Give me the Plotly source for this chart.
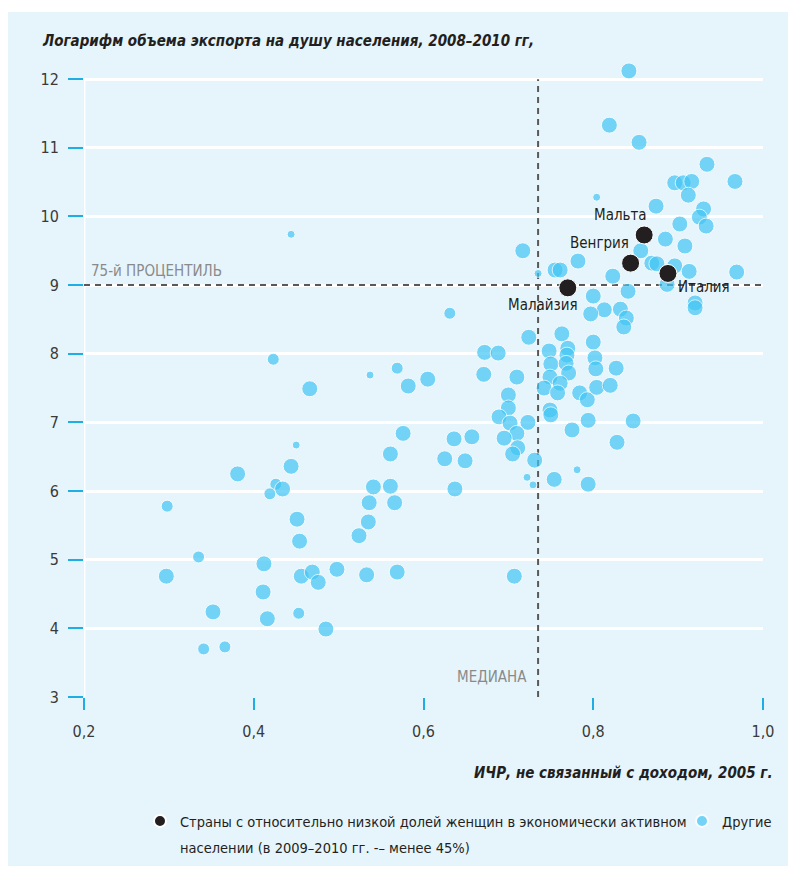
import plotly.graph_objects as go

# ---------------- data ----------------
# "Другие" (other countries): non-income HDI 2005, log exports per capita 2008-2010, bubble class
other_hdi = [0.842, 0.819, 0.854, 0.934, 0.967, 0.896, 0.906, 0.916, 0.912, 0.804,
             0.874, 0.930, 0.925, 0.933, 0.902, 0.885, 0.908, 0.717, 0.782, 0.856,
             0.869, 0.875, 0.735, 0.755, 0.761, 0.823, 0.896, 0.913, 0.969, 0.887,
             0.841, 0.800, 0.920, 0.920, 0.813, 0.797, 0.832, 0.839, 0.836, 0.724,
             0.763, 0.800, 0.748, 0.770, 0.769, 0.802, 0.672, 0.688, 0.750, 0.768,
             0.771, 0.803, 0.827, 0.671, 0.710, 0.749, 0.742, 0.761, 0.758, 0.784,
             0.793, 0.804, 0.820, 0.700, 0.700, 0.689, 0.702, 0.723, 0.749, 0.750,
             0.794, 0.847, 0.775, 0.710, 0.695, 0.828, 0.711, 0.705, 0.731, 0.722,
             0.729, 0.754, 0.781, 0.794, 0.636, 0.657, 0.625, 0.649, 0.637, 0.707,
             0.381, 0.444, 0.426, 0.434, 0.419, 0.298, 0.451, 0.454, 0.335, 0.412,
             0.297, 0.456, 0.469, 0.476, 0.498, 0.533, 0.569, 0.411, 0.352, 0.453,
             0.416, 0.485, 0.341, 0.366, 0.561, 0.541, 0.561, 0.536, 0.566, 0.535,
             0.524, 0.444, 0.631, 0.423, 0.466, 0.537, 0.569, 0.582, 0.605, 0.576,
             0.450]
other_exp = [12.12, 11.33, 11.08, 10.76, 10.51, 10.49, 10.49, 10.51, 10.31, 10.28,
             10.15, 10.11, 9.99, 9.86, 9.89, 9.67, 9.57, 9.50, 9.35, 9.50,
             9.32, 9.31, 9.17, 9.22, 9.22, 9.13, 9.28, 9.20, 9.19, 9.01,
             8.91, 8.84, 8.74, 8.67, 8.64, 8.58, 8.65, 8.52, 8.39, 8.24,
             8.29, 8.17, 8.04, 8.08, 7.98, 7.94, 8.02, 8.01, 7.85, 7.86,
             7.72, 7.78, 7.79, 7.70, 7.66, 7.66, 7.50, 7.57, 7.43, 7.43,
             7.33, 7.51, 7.54, 7.40, 7.21, 7.08, 6.99, 7.00, 7.18, 7.11,
             7.03, 7.02, 6.89, 6.84, 6.77, 6.71, 6.63, 6.54, 6.45, 6.20,
             6.09, 6.17, 6.31, 6.10, 6.76, 6.79, 6.47, 6.44, 6.03, 4.76,
             6.25, 6.36, 6.10, 6.03, 5.96, 5.78, 5.59, 5.27, 5.04, 4.94,
             4.76, 4.76, 4.82, 4.67, 4.86, 4.78, 4.82, 4.53, 4.24, 4.22,
             4.14, 3.99, 3.70, 3.73, 6.54, 6.06, 6.07, 5.83, 5.83, 5.55,
             5.35, 9.74, 8.59, 7.92, 7.49, 7.69, 7.79, 7.53, 7.63, 6.84,
             6.67]
other_cls = [3, 3, 3, 3, 3, 3, 3, 3, 3, 1,
             3, 3, 3, 3, 3, 3, 3, 3, 3, 3,
             3, 3, 1, 3, 3, 3, 3, 3, 3, 3,
             3, 3, 3, 3, 3, 3, 3, 3, 3, 3,
             3, 3, 3, 3, 3, 3, 3, 3, 3, 3,
             3, 3, 3, 3, 3, 3, 3, 3, 3, 3,
             3, 3, 3, 3, 3, 3, 3, 3, 3, 3,
             3, 3, 3, 3, 3, 3, 3, 3, 3, 1,
             1, 3, 1, 3, 3, 3, 3, 3, 3, 3,
             3, 3, 2, 3, 2, 2, 3, 3, 2, 3,
             3, 3, 3, 3, 3, 3, 3, 3, 3, 2,
             3, 3, 2, 2, 3, 3, 3, 3, 3, 3,
             3, 1, 2, 2, 3, 1, 2, 3, 3, 3,
             1]

# Countries with a low share of women in the labour force
low_names = ["Мальта", "Венгрия", "Италия", "Малайзия"]
low_hdi = [0.860, 0.844, 0.888, 0.770]
low_exp = [9.73, 9.32, 9.17, 8.96]

median_hdi = 0.735
p75_exp = 9.0

x_ticks = [0.2, 0.4, 0.6, 0.8, 1.0]
y_ticks = [3, 4, 5, 6, 7, 8, 9, 10, 11, 12]

legend_low_line1 = "Страны с относительно низкой долей женщин в экономически активном"
legend_low_line2 = "населении (в 2009–2010 гг. -– менее 45%)"

# ---------------- styling ----------------
FONT = "DejaVu Sans Condensed, Liberation Sans Narrow, sans-serif"
BG = "#e6f5fc"
BLUE = "#42c6f4"
BLACK = "#231f20"
TICK = "#1faee4"
size_px = {3: 16, 2: 12, 1: 8}

X_MIN, X_MAX = 0.2, 1.0
Y_MIN, Y_MAX = 3.0, 12.0
Y_PAD = 0.25                      # headroom so the topmost bubble is drawn
PX_PER_Y = (697 - 79) / (Y_MAX - Y_MIN)

# page has an 8px body margin: figure coordinates = page coordinates - 8
OFF = 8
W, H = 788, 865
L = 84 - OFF
T = round((79 - OFF) - Y_PAD * PX_PER_Y)
R = W - (763 - OFF)
B = H - (697 - OFF)
pw, ph = W - L - R, H - T - B


def px_x(p):
    return (p - OFF - L) / pw


def px_y(p):
    return (H - B - (p - OFF)) / ph


fig = go.Figure()

fig.add_trace(go.Scatter(
    x=other_hdi, y=other_exp, mode="markers", name="Другие", legend="legend2",
    marker=dict(color=BLUE, size=[size_px[c] for c in other_cls],
                line=dict(color="white", width=1)),
    cliponaxis=False, hoverinfo="skip"))

fig.add_trace(go.Scatter(
    x=low_hdi, y=low_exp, mode="markers", legend="legend",
    name=legend_low_line1,
    marker=dict(color=BLACK, size=18, line=dict(color="white", width=1)),
    cliponaxis=False, hoverinfo="skip"))

# white y-axis line
fig.add_shape(type="line", xref="x", yref="y", x0=X_MIN, x1=X_MIN, y0=Y_MIN, y1=Y_MAX,
              line=dict(color="white", width=3), layer="between")

# reference lines
dash = "6px,5px"
fig.add_shape(type="line", xref="x", yref="y", x0=median_hdi, x1=median_hdi, y0=Y_MIN, y1=Y_MAX,
              line=dict(color="#595959", width=2, dash=dash), layer="between")
fig.add_shape(type="line", xref="x", yref="y", x0=X_MIN, x1=X_MAX, y0=p75_exp, y1=p75_exp,
              line=dict(color="#595959", width=2, dash=dash), layer="between")

# light-blue panel
fig.add_shape(type="rect", xref="paper", yref="paper",
              x0=px_x(8), x1=px_x(790), y0=px_y(12), y1=px_y(866),
              fillcolor=BG, line=dict(width=0), layer="below")

# country labels
offs = {"Мальта": dict(xanchor="right", yanchor="bottom", xshift=5, yshift=9),
        "Венгрия": dict(xanchor="right", yanchor="bottom", xshift=0, yshift=9),
        "Италия": dict(xanchor="left", yanchor="middle", xshift=8, yshift=-14),
        "Малайзия": dict(xanchor="center", yanchor="middle", xshift=-25, yshift=-17)}
for n, xv, yv in zip(low_names, low_hdi, low_exp):
    fig.add_annotation(x=xv, y=yv, xref="x", yref="y", text=n, showarrow=False,
                       font=dict(family=FONT, size=15, color=BLACK), **offs[n])

# reference-line labels
fig.add_annotation(x=px_x(89), y=p75_exp, xref="paper", yref="y", text="75-й ПРОЦЕНТИЛЬ",
                   showarrow=False, xanchor="left", yanchor="bottom", yshift=3,
                   font=dict(family=FONT, size=15, color="#8a8a8a"))
fig.add_annotation(x=median_hdi, y=Y_MIN, xref="x", yref="y", text="МЕДИАНА",
                   showarrow=False, xanchor="right", yanchor="bottom", xshift=-9, yshift=9,
                   font=dict(family=FONT, size=15, color="#8a8a8a"))

# axis titles
fig.add_annotation(x=px_x(40), y=px_y(41), xref="paper", yref="paper",
                   text="<b><i>Логарифм объема экспорта на душу населения, 2008–2010 гг,</i></b>",
                   showarrow=False, xanchor="left", yanchor="middle",
                   font=dict(family=FONT, size=15, color=BLACK))
fig.add_annotation(x=px_x(775), y=px_y(773), xref="paper", yref="paper",
                   text="<b><i>ИЧР, не связанный с доходом, 2005 г.</i></b>",
                   showarrow=False, xanchor="right", yanchor="middle",
                   font=dict(family=FONT, size=15, color=BLACK))

# second line of the first legend entry
fig.add_annotation(x=px_x(178), y=px_y(848), xref="paper", yref="paper",
                   text=legend_low_line2, showarrow=False, xanchor="left", yanchor="middle",
                   font=dict(family=FONT, size=14.5, color=BLACK))

fig.update_xaxes(range=[X_MIN, X_MAX], tickvals=x_ticks, tickformat=".1f",
                 showgrid=False, zeroline=False, showline=False,
                 ticks="outside", ticklen=12, tickwidth=2, tickcolor=TICK,
                 ticklabelstandoff=8,
                 tickfont=dict(family=FONT, size=16, color="#3a3a3a"))
fig.update_yaxes(range=[Y_MIN, Y_MAX + Y_PAD], tickvals=y_ticks,
                 showgrid=True, gridcolor="white", gridwidth=3, zeroline=False,
                 showline=False,
                 ticks="outside", ticklen=15, tickwidth=2, tickcolor=TICK,
                 ticklabelstandoff=6,
                 tickfont=dict(family=FONT, size=16, color="#3a3a3a"))

leg_common = dict(orientation="v", xanchor="left", yanchor="top", valign="top",
                  bgcolor="rgba(0,0,0,0)", itemsizing="constant",
                  font=dict(family=FONT, size=14.5, color=BLACK))
fig.update_layout(
    width=W, height=H,
    margin=dict(l=L, r=R, t=T, b=B, autoexpand=False),
    paper_bgcolor="white", plot_bgcolor=BG,
    separators=", ",
    showlegend=True,
    legend=dict(x=px_x(140), y=px_y(805), **leg_common),
    legend2=dict(x=px_x(682), y=px_y(805), **leg_common),
)

fig.write_html("out.html")
